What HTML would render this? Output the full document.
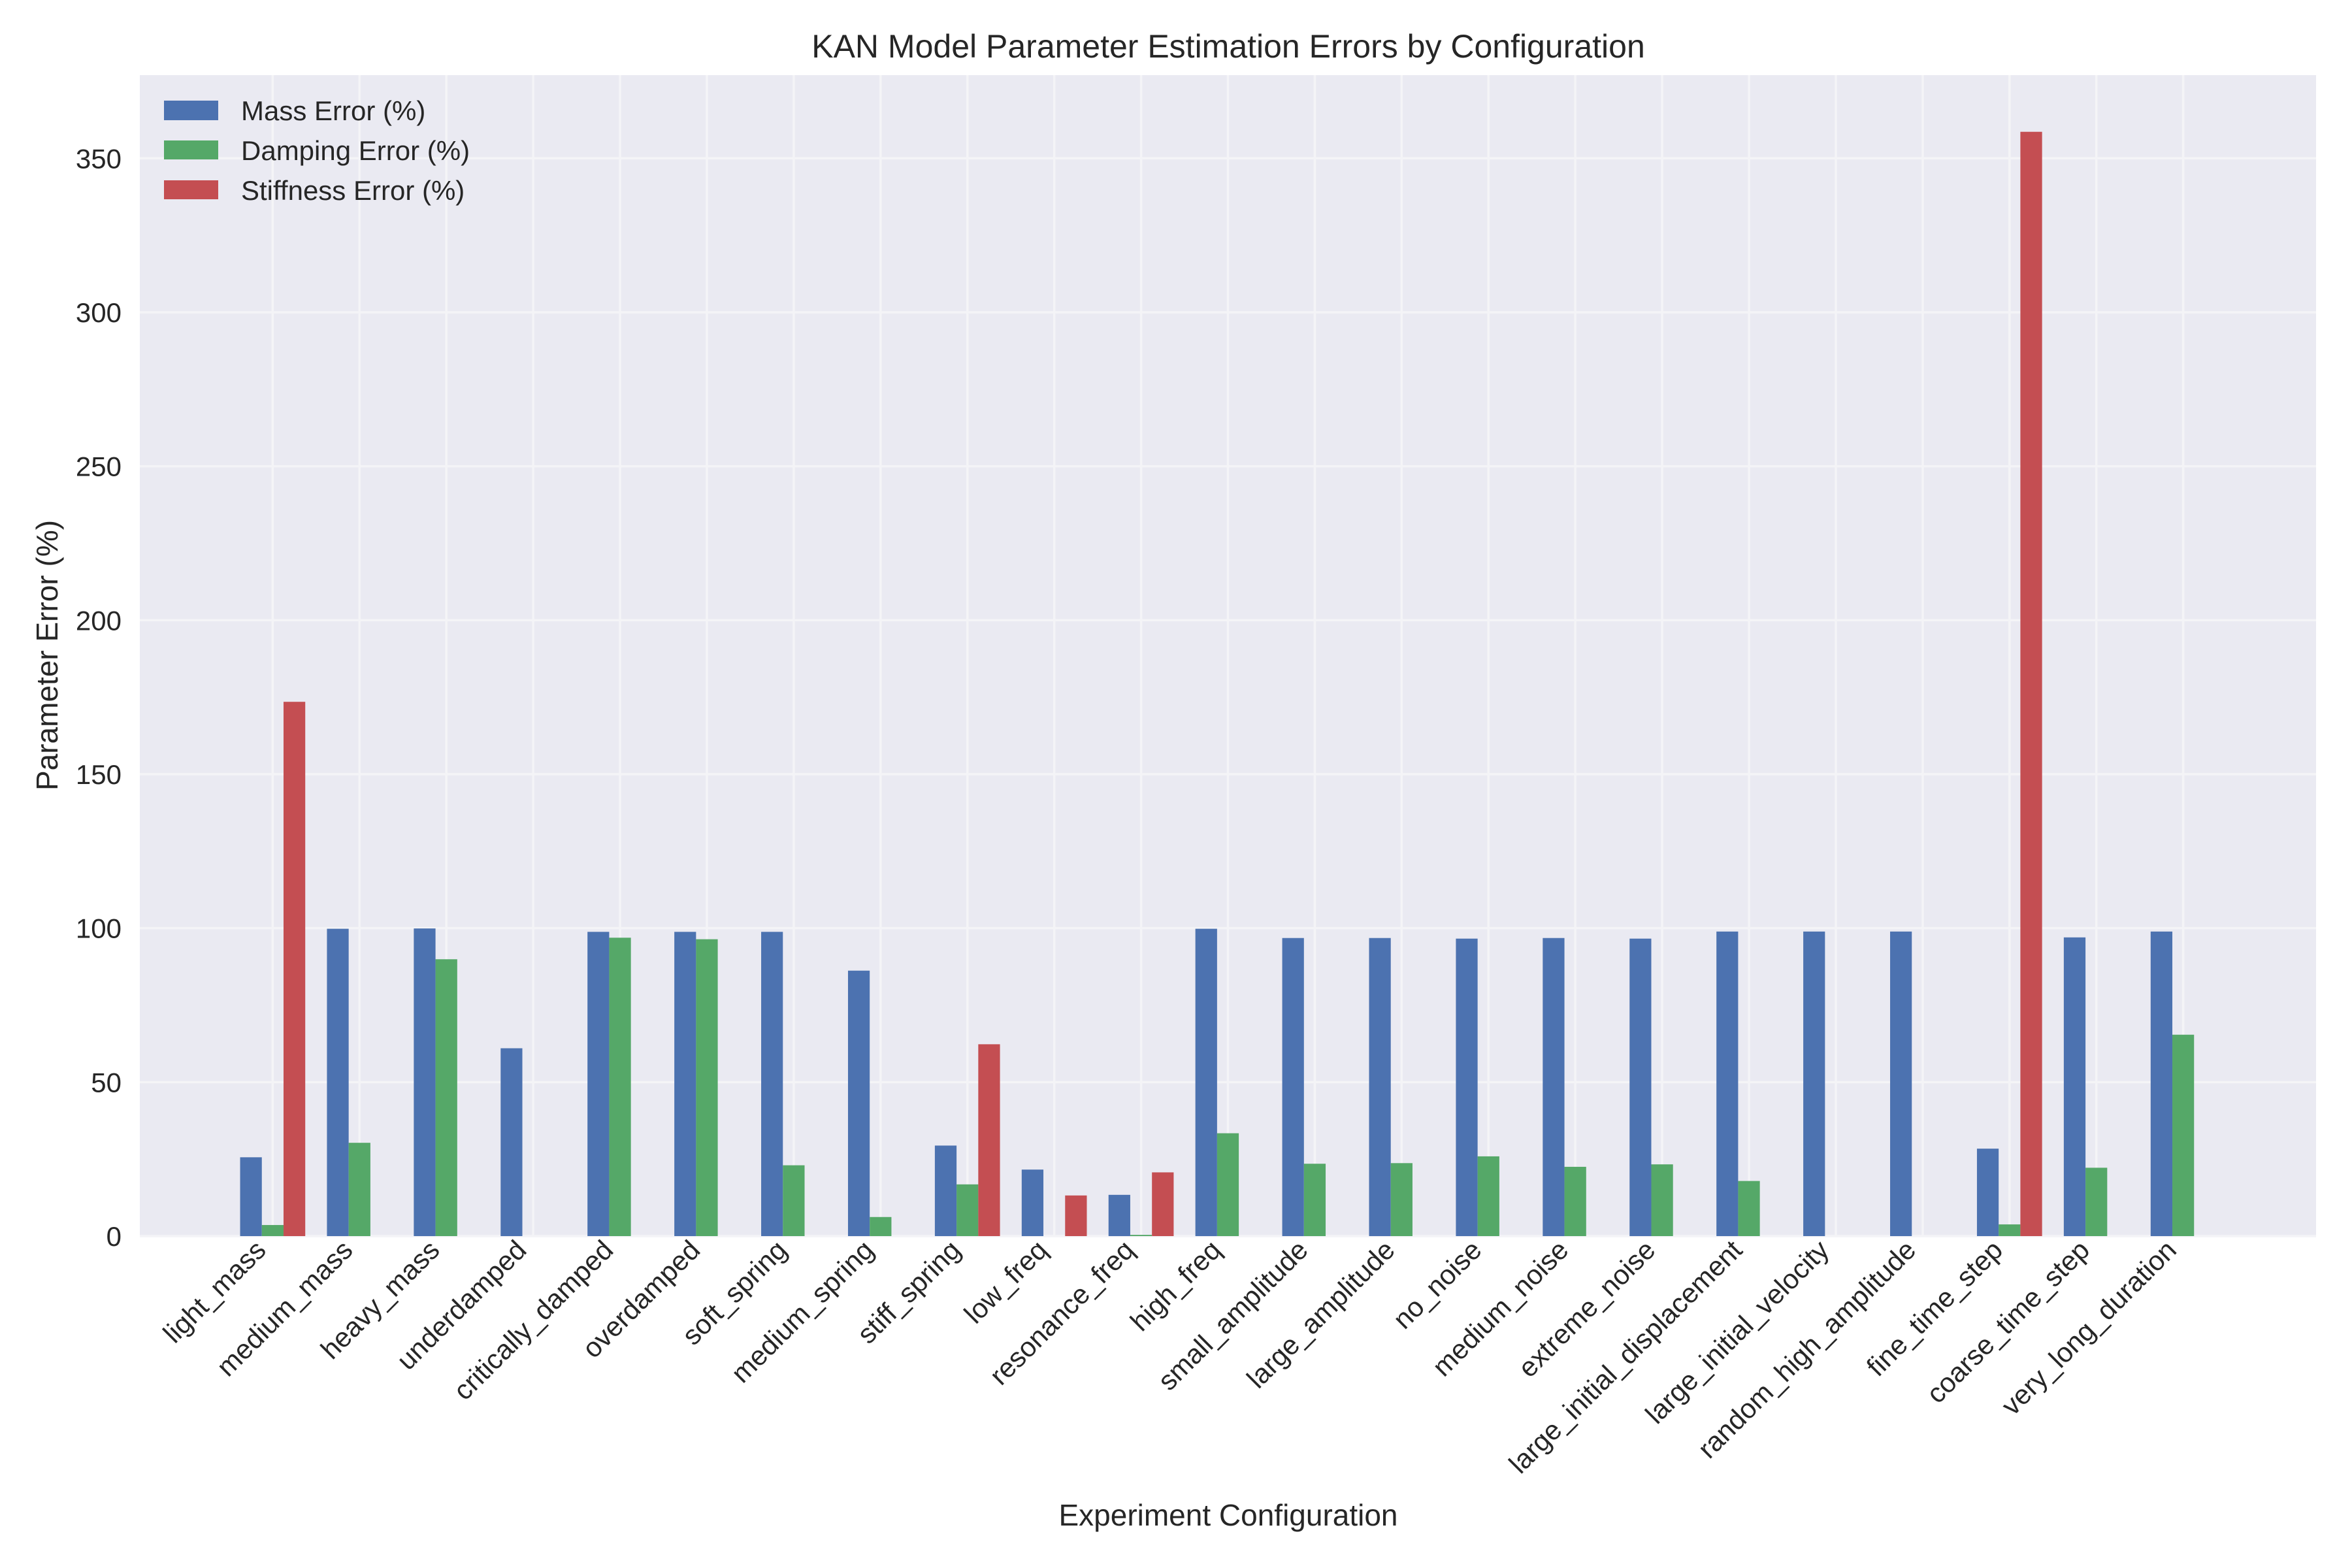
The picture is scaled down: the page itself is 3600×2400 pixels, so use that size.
<!DOCTYPE html>
<html><head><meta charset="utf-8"><style>
html,body{margin:0;padding:0;background:#fff;}
svg{display:block;font-family:"Liberation Sans",sans-serif;}
</style></head><body>
<svg id="chart" width="3600" height="2400" viewBox="0 0 3600 2400" xmlns="http://www.w3.org/2000/svg">
<rect width="3600" height="2400" fill="#fff"/>
<rect x="214" y="115" width="3331" height="1777" fill="#EAEAF2"/>
<g id="grid"></g><g id="bars"></g><g id="ticks"></g>
<text x="1880" y="88" text-anchor="middle" font-size="50" fill="#262626">KAN Model Parameter Estimation Errors by Configuration</text>
<text x="1880" y="2335" text-anchor="middle" font-size="46" fill="#262626">Experiment Configuration</text>
<text x="0" y="0" transform="translate(88,1003) rotate(-90)" text-anchor="middle" font-size="46" fill="#262626">Parameter Error (%)</text>
<g>
<rect x="251" y="154" width="83" height="30" fill="#4C72B0"/>
<text x="369" y="184" font-size="42" fill="#262626">Mass Error (%)</text>
<rect x="251" y="215" width="83" height="29" fill="#55A868"/>
<text x="369" y="245" font-size="42" fill="#262626">Damping Error (%)</text>
<rect x="251" y="276" width="83" height="29" fill="#C44E52"/>
<text x="369" y="306" font-size="42" fill="#262626">Stiffness Error (%)</text>
</g>
</svg>
<script>
const categories = ["light_mass","medium_mass","heavy_mass","underdamped","critically_damped","overdamped","soft_spring","medium_spring","stiff_spring","low_freq","resonance_freq","high_freq","small_amplitude","large_amplitude","no_noise","medium_noise","extreme_noise","large_initial_displacement","large_initial_velocity","random_high_amplitude","fine_time_step","coarse_time_step","very_long_duration"];
const massErr = [25.6,99.8,99.9,61,98.8,98.8,98.8,86.2,29.4,21.6,13.4,99.8,96.8,96.8,96.6,96.8,96.6,98.9,98.9,98.9,28.4,97.0,98.9];
const dampErr = [3.6,30.3,89.9,0,96.9,96.4,23,6.2,16.8,0,0.4,33.4,23.5,23.7,25.9,22.5,23.3,17.9,0,0,3.8,22.2,65.4];
const stiffErr = [173.5,0,0,0,0,0,0,0,62.3,13.2,20.7,0,0,0,0,0,0,0,0,0,358.6,0,0];
const yTicks = [0,50,100,150,200,250,300,350];
const seriesColors = ["#4C72B0","#55A868","#C44E52"];
const seriesNames = ["mass","damping","stiffness"];

const NS="http://www.w3.org/2000/svg";
const L=214,R=3545,T=115,B=1892,YMAX=377;
const xMin=-1.53,xMax=categories.length-1+1.53;
function xs(v){return L+(v-xMin)/(xMax-xMin)*(R-L);}
function ys(v){return B-v/YMAX*(B-T);}
function mk(tag,attrs,parent){const e=document.createElementNS(NS,tag);for(const k in attrs)e.setAttribute(k,attrs[k]);parent.appendChild(e);return e;}
const grid=document.getElementById('grid'),bars=document.getElementById('bars'),ticks=document.getElementById('ticks');
yTicks.forEach(t=>{
  const g=mk('line',{x1:L,x2:R,y1:ys(t),y2:ys(t),stroke:'#F4F4F7','stroke-width':3.5},grid);
  
  
  const tx=mk('text',{x:186,y:ys(t)+15,'text-anchor':'end','font-size':42,fill:'#262626'},ticks);
  
  
  tx.textContent=t;
});
categories.forEach((c,i)=>{
  const g=mk('line',{x1:xs(i),x2:xs(i),y1:T,y2:B,stroke:'#F4F4F7','stroke-width':3.5},grid);
  
  
  const tx=mk('text',{x:0,y:0,'text-anchor':'end','font-size':42,fill:'#262626',transform:`translate(${xs(i)-8},${B+24}) rotate(-45)`},ticks);
  
  
  tx.textContent=c;
});
const bw=0.25;
[massErr,dampErr,stiffErr].forEach((arr,s)=>{
  arr.forEach((v,i)=>{
    const cx=i+(s-1)*bw;
    const x0=xs(cx-bw/2),x1=xs(cx+bw/2);
    const r=mk('rect',{x:x0,y:ys(v),width:x1-x0,height:B-ys(v),fill:seriesColors[s]},bars);
    
    
  });
});
</script>
</body></html>
